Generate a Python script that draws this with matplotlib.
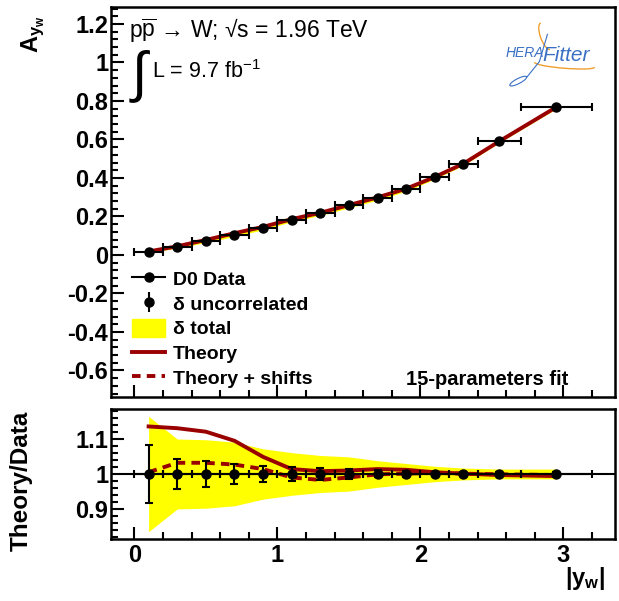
import numpy as np
import matplotlib.pyplot as plt
from matplotlib.lines import Line2D
from matplotlib.patches import Patch, Ellipse, Arc
from matplotlib.ticker import MultipleLocator

plt.rcParams['font.family'] = ['Liberation Sans', 'DejaVu Sans']
plt.rcParams['mathtext.fontset'] = 'custom'
plt.rcParams['mathtext.rm'] = 'Liberation Sans'
plt.rcParams['mathtext.it'] = 'Liberation Sans:italic'
plt.rcParams['mathtext.bf'] = 'Liberation Sans:bold'

# ---------------------------
# Dane
# ---------------------------
y_center = [0.1, 0.3, 0.5, 0.7, 0.9, 1.1, 1.3, 1.5, 1.7, 1.9, 2.1, 2.3, 2.55, 2.95]
bin_lo = [0.0, 0.2, 0.4, 0.6, 0.8, 1.0, 1.2, 1.4, 1.6, 1.8, 2.0, 2.2, 2.4, 2.7]
bin_hi = [0.2, 0.4, 0.6, 0.8, 1.0, 1.2, 1.4, 1.6, 1.8, 2.0, 2.2, 2.4, 2.7, 3.2]
asym_data = [0.014, 0.040, 0.071, 0.106, 0.141, 0.184, 0.217, 0.257, 0.296,
             0.341, 0.403, 0.473, 0.591, 0.770]
asym_theory = [0.018, 0.045, 0.078, 0.113, 0.146, 0.186, 0.219, 0.259, 0.299,
               0.344, 0.405, 0.474, 0.590, 0.768]
# wzgledne bledy (dolny panel)
rel_unc = [0.083, 0.044, 0.036, 0.028, 0.024, 0.020, 0.018, 0.014, 0.010,
           0.008, 0.007, 0.006, 0.005, 0.005]
rel_tot = [0.165, 0.100, 0.098, 0.091, 0.072, 0.061, 0.053, 0.049, 0.038,
           0.030, 0.022, 0.017, 0.014, 0.014]
ratio_theory = [1.136, 1.131, 1.121, 1.095, 1.049, 1.014, 1.008, 1.010, 1.014,
                1.012, 1.005, 1.001, 0.997, 0.994]
ratio_shift = [1.005, 1.032, 1.032, 1.027, 1.014, 0.990, 0.983, 0.990, 0.999,
               1.001, 1.003, 1.001, 0.999, 0.997]

x = np.array(y_center)
xerr = [x - np.array(bin_lo), np.array(bin_hi) - x]
data = np.array(asym_data)
unc = np.array(rel_unc)
tot = np.array(rel_tot)

red = '#990000'
yellow = '#ffff00'
blue = '#3a6fc4'
orange = '#f0a030'
tick_fs = 17
bold = dict(fontweight='bold')

fig = plt.figure(figsize=(6.19, 6.01), dpi=100)
ax1 = fig.add_axes([0.1793, 0.3394, 0.8142, 0.6489])
ax2 = fig.add_axes([0.1793, 0.1032, 0.8142, 0.2163])

# ---------------------------
# Panel gorny
# ---------------------------
ax1.fill_between(x, data * (1 - tot), data * (1 + tot), color=yellow, lw=0, zorder=1)
ax1.plot(x, asym_theory, color=red, lw=2.8, zorder=2)
ax1.errorbar(x, data, xerr=xerr, yerr=data * unc, fmt='o', color='k', ms=6.5,
             elinewidth=1.5, capsize=3, capthick=1.5, zorder=3)
ax1.set_xlim(-0.163, 3.36)
ax1.set_ylim(-0.738, 1.288)
ax1.yaxis.set_minor_locator(MultipleLocator(0.04))
ax1.xaxis.set_major_locator(MultipleLocator(1))
ax1.xaxis.set_minor_locator(MultipleLocator(0.2))
ax1.set_yticks(np.arange(-0.6, 1.21, 0.2))
ax1.set_yticklabels(['-0.6', '-0.4', '-0.2', '0', '0.2', '0.4', '0.6', '0.8', '1', '1.2'],
                    fontsize=tick_fs, **bold)
ax1.tick_params(axis='x', labelbottom=False)

ax1.text(-0.155, 0.98, r'A$_{\mathbf{y_{w}}}$', transform=ax1.transAxes,
         rotation=90, ha='center', va='top', fontsize=17, **bold)

ax1.text(0.035, 0.94, r'p$\overline{\mathrm{p}}$ → W; √s = 1.96 TeV',
         transform=ax1.transAxes, fontsize=16.5, va='center')
ax1.text(0.035, 0.822, r'$\int$', transform=ax1.transAxes, fontsize=40, va='center')
ax1.text(0.082, 0.835, r'L = 9.7 fb$^{\mathregular{-1}}$', transform=ax1.transAxes,
         fontsize=15.5, va='center')
ax1.text(0.907, 0.045, '15-parameters fit', transform=ax1.transAxes, ha='right',
         va='center', fontsize=14.5, **bold)

# logo HERAFitter (przyblizone)
ax1.text(0.782, 0.882, 'HERA', transform=ax1.transAxes, fontsize=10, style='italic',
         color=blue, va='center')
ax1.text(0.855, 0.875, 'Fitter', transform=ax1.transAxes, fontsize=15, style='italic',
         color=blue, va='center')
ax1.add_patch(Arc((0.9, 0.852), 0.12, 0.018, angle=-6, theta1=180, theta2=360,
                  transform=ax1.transAxes, color=orange, lw=1))
ax1.add_patch(Arc((0.862, 0.925), 0.02, 0.07, angle=15, theta1=90, theta2=270,
                  transform=ax1.transAxes, color=orange, lw=1))
ax1.add_patch(Ellipse((0.808, 0.81), 0.04, 0.012, angle=35, transform=ax1.transAxes,
                      fill=False, ec=blue, lw=0.8))
ax1.plot([0.866, 0.85, 0.825], [0.93, 0.86, 0.82], transform=ax1.transAxes,
         color=blue, lw=0.8)

# legenda
unc_handle = ax1.errorbar([np.nan], [np.nan], yerr=[0.1], fmt='o', color='k', ms=6.5,
                          elinewidth=1.5, capsize=0)
handles = [
    Line2D([], [], color='k', marker='o', ms=6.5, lw=1.5),
    unc_handle,
    Patch(color=yellow),
    Line2D([], [], color=red, lw=2.8),
    Line2D([], [], color=red, lw=2.8, ls=(0, (2.2, 1.6))),
]
labels = ['D0 Data', 'δ uncorrelated', 'δ total', 'Theory', 'Theory + shifts']
leg = ax1.legend(handles, labels, loc='upper left', bbox_to_anchor=(0.042, 0.327),
                 frameon=False, prop={'weight': 'bold', 'size': 14},
                 handlelength=1.7, handleheight=1.0, handletextpad=0.4,
                 labelspacing=0.28, borderaxespad=0.0, borderpad=0.0)

# ---------------------------
# Panel dolny
# ---------------------------
ax2.fill_between(x, 1 - tot, 1 + tot, color=yellow, lw=0, zorder=1)
ax2.hlines(1.0, -0.07, 3.36, color='k', lw=1.5, zorder=2)
ax2.plot(x, ratio_theory, color=red, lw=2.8, zorder=3)
ax2.plot(x, ratio_shift, color=red, lw=2.8, ls=(0, (2.2, 1.6)), zorder=3)
ax2.errorbar(x, np.ones_like(x), xerr=xerr, yerr=unc, fmt='o', color='k', ms=6.5,
             elinewidth=1.5, capsize=3, capthick=1.5, zorder=4)
ax2.set_xlim(-0.163, 3.36)
ax2.set_ylim(0.814, 1.186)
ax2.xaxis.set_minor_locator(MultipleLocator(0.2))
ax2.set_yticks([0.9, 1.0, 1.1])
ax2.yaxis.set_minor_locator(MultipleLocator(0.02))
ax2.set_yticklabels(['0.9', '1', '1.1'], fontsize=tick_fs, **bold)
ax2.set_xticks([0, 1, 2, 3])
ax2.set_xticklabels(['0', '1', '2', '3'], fontsize=tick_fs, **bold)
ax2.set_ylabel('Theory/Data', fontsize=17.5, **bold)
ax2.yaxis.set_label_coords(-0.155, 0.446)
ax2.text(0.98, -0.2, r'|y$_{\mathbf{w}}$|', transform=ax2.transAxes, ha='right',
         va='top', fontsize=17, **bold)

for ax in (ax1, ax2):
    for s in ax.spines.values():
        s.set_linewidth(1.8)
    ax.tick_params(which='both', direction='in', top=False, right=False, width=1.5)
    ax.tick_params(which='major', length=9)
    ax.tick_params(which='minor', length=5)
    ax.tick_params(axis='y', pad=2)

fig.savefig('out.png', dpi=100)
